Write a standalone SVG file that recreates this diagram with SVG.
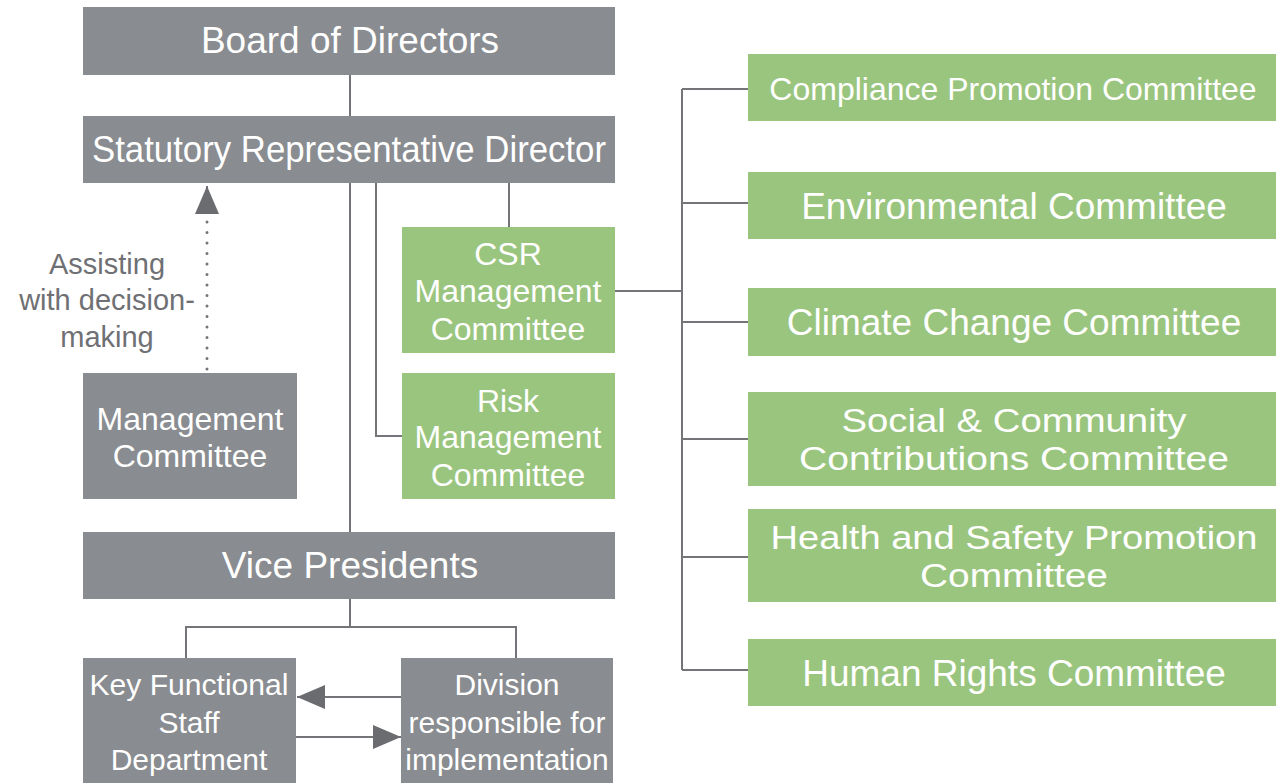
<svg xmlns="http://www.w3.org/2000/svg" width="1276" height="783" viewBox="0 0 1276 783">
<style>
.g{fill:#898c90}
.n{fill:#9ac57e}
text{font-family:"Liberation Sans",Arial,sans-serif;fill:#ffffff;text-anchor:middle}
.t38{font-size:37px}
.t34{font-size:34px}
.t33{font-size:32px}
.t30{font-size:30px}
.lbl{fill:#6f7074;font-size:29px}
.ln{fill:none;stroke:#737579;stroke-width:2}
.dot{fill:none;stroke:#737579;stroke-width:3;stroke-linecap:round;stroke-dasharray:0 10.5}
.ar{fill:none;stroke:#737579;stroke-width:2}
</style>
<defs>
<marker id="ah" markerUnits="userSpaceOnUse" markerWidth="30" markerHeight="24" refX="28" refY="12" orient="auto">
<path d="M0,0 L28,12 L0,24 Z" fill="#6a6c70"/>
</marker>
</defs>
<rect width="1276" height="783" fill="#ffffff"/>
<g id="connectors">
<path class="ln" d="M350,75 V116"/>
<path class="ln" d="M350,183 V532"/>
<path class="ln" d="M376,183 V436 H402"/>
<path class="ln" d="M509,183 V227"/>
<path class="ln" d="M615,291 H682"/>
<path class="ln" d="M682,89 V670"/>
<path class="ln" d="M682,89 H748 M682,203 H748 M682,322 H748 M682,439 H748 M682,557 H748 M682,670 H748"/>
<path class="ln" d="M350,599 V627 M186,658 V627 H516 V658"/>
<path class="dot" d="M207,369 V186"/>
<path class="ar" d="M207,212 V186" marker-end="url(#ah)"/>
<path class="ar" d="M401,697 H297" marker-end="url(#ah)"/>
<path class="ar" d="M296,737 H401" marker-end="url(#ah)"/>
</g>
<g id="board"><rect class="g" x="83" y="7" width="532" height="68"/><text class="t38" x="350" y="53">Board of Directors</text></g>
<g id="srd"><rect class="g" x="83" y="116" width="532" height="67"/><text class="t38" x="349" y="162" textLength="514" lengthAdjust="spacingAndGlyphs">Statutory Representative Director</text></g>
<g id="assist-label"><text class="lbl" x="107" y="274">Assisting</text><text class="lbl" x="107" y="310">with decision-</text><text class="lbl" x="107" y="347">making</text></g>
<g id="csr"><rect class="n" x="402" y="227" width="213" height="126"/><text class="t33" x="508" y="265">CSR</text><text class="t33" x="508" y="302">Management</text><text class="t33" x="508" y="340">Committee</text></g>
<g id="mgmt"><rect class="g" x="83" y="373" width="214" height="126"/><text class="t33" x="190" y="430">Management</text><text class="t33" x="190" y="467">Committee</text></g>
<g id="risk"><rect class="n" x="402" y="373" width="213" height="126"/><text class="t33" x="508" y="412">Risk</text><text class="t33" x="508" y="448">Management</text><text class="t33" x="508" y="486">Committee</text></g>
<g id="vp"><rect class="g" x="83" y="532" width="532" height="67"/><text class="t38" x="350" y="578">Vice Presidents</text></g>
<g id="kfsd"><rect class="g" x="83" y="658" width="213" height="125"/><text class="t30" x="189" y="695" textLength="199" lengthAdjust="spacingAndGlyphs">Key Functional</text><text class="t30" x="189" y="733">Staff</text><text class="t30" x="189" y="770">Department</text></g>
<g id="division"><rect class="g" x="401" y="658" width="212" height="125"/><text class="t30" x="507" y="695">Division</text><text class="t30" x="507" y="733">responsible for</text><text class="t30" x="507" y="770">implementation</text></g>
<g id="compliance"><rect class="n" x="748" y="54" width="528" height="67"/><text x="1013" y="100" style="font-size:32px">Compliance Promotion Committee</text></g>
<g id="environmental"><rect class="n" x="748" y="172" width="528" height="67"/><text class="t38" x="1014" y="219">Environmental Committee</text></g>
<g id="climate"><rect class="n" x="748" y="288" width="528" height="68"/><text class="t38" x="1014" y="335">Climate Change Committee</text></g>
<g id="social"><rect class="n" x="748" y="392" width="528" height="94"/><text class="t34" x="1014" y="432" textLength="345" lengthAdjust="spacingAndGlyphs">Social &amp; Community</text><text class="t34" x="1014" y="470" textLength="430" lengthAdjust="spacingAndGlyphs">Contributions Committee</text></g>
<g id="health"><rect class="n" x="748" y="509" width="528" height="93"/><text class="t34" x="1014" y="549" textLength="487" lengthAdjust="spacingAndGlyphs">Health and Safety Promotion</text><text class="t34" x="1014" y="587" textLength="188" lengthAdjust="spacingAndGlyphs">Committee</text></g>
<g id="humanrights"><rect class="n" x="748" y="639" width="528" height="67"/><text class="t38" x="1014" y="686">Human Rights Committee</text></g>
</svg>
